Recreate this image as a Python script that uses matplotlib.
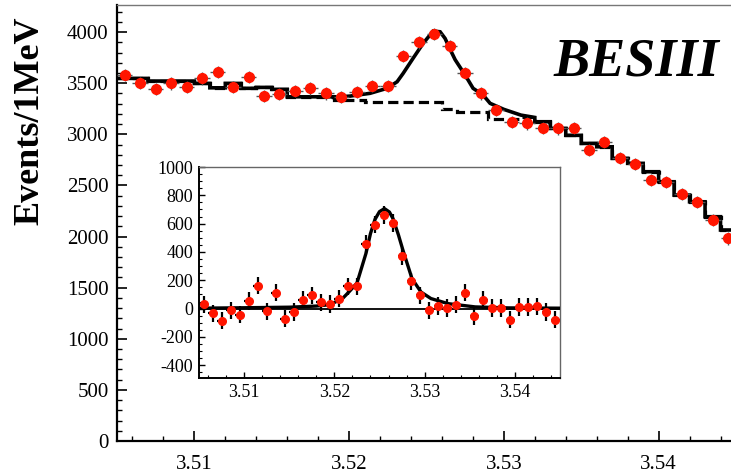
import numpy as np
import matplotlib
matplotlib.use("Agg")
import matplotlib.pyplot as plt
from matplotlib.ticker import MultipleLocator, FixedLocator, FixedFormatter

plt.rcParams["axes.unicode_minus"] = False

# ---------------- data ----------------
bin_edges = [3.505, 3.506, 3.507, 3.508, 3.509, 3.510, 3.511, 3.512, 3.513, 3.514,
             3.515, 3.516, 3.517, 3.518, 3.519, 3.520, 3.521, 3.522, 3.523, 3.524,
             3.525, 3.526, 3.527, 3.528, 3.529, 3.530, 3.531, 3.532, 3.533, 3.534,
             3.535, 3.536, 3.537, 3.538, 3.539, 3.540, 3.541, 3.542, 3.543, 3.544,
             3.545]
bin_centers = [3.5055, 3.5065, 3.5075, 3.5085, 3.5095, 3.5105, 3.5115, 3.5125, 3.5135, 3.5145,
               3.5155, 3.5165, 3.5175, 3.5185, 3.5195, 3.5205, 3.5215, 3.5225, 3.5235, 3.5245,
               3.5255, 3.5265, 3.5275, 3.5285, 3.5295, 3.5305, 3.5315, 3.5325, 3.5335, 3.5345,
               3.5355, 3.5365, 3.5375, 3.5385, 3.5395, 3.5405, 3.5415, 3.5425, 3.5435, 3.5445]

# main histogram: events per 1 MeV
events = [3579, 3504, 3440, 3498, 3465, 3547, 3612, 3465, 3560, 3377,
          3394, 3426, 3449, 3400, 3367, 3413, 3475, 3475, 3765, 3899,
          3980, 3863, 3602, 3400, 3237, 3123, 3107, 3064, 3058, 3064,
          2846, 2927, 2770, 2709, 2553, 2536, 2413, 2340, 2161, 1982]
events_err = 60

# background shape (dashed histogram)
background = [3547, 3547, 3521, 3521, 3521, 3498, 3455, 3498, 3450, 3459,
              3440, 3367, 3367, 3367, 3335, 3335, 3318, 3318, 3318, 3318,
              3318, 3250, 3221, 3221, 3146, 3146, 3165, 3123, 3058, 2990,
              2911, 2878, 2765, 2716, 2634, 2536, 2406, 2340, 2194, 2064]

# total fit around the peak (solid curve vertices)
peak_fit_x = [3.5190, 3.52006, 3.52135, 3.52245, 3.5231, 3.52349, 3.52413, 3.52478,
              3.52543, 3.52588, 3.5262, 3.52653, 3.52685, 3.5275, 3.52801, 3.52866,
              3.52911, 3.5300, 3.5311]
peak_fit_y = [3362, 3374, 3401, 3450, 3514, 3596, 3743, 3889,
              4010, 4003, 3938, 3830, 3730, 3579, 3450, 3384,
              3303, 3244, 3188]

# inset: background-subtracted events
signal = [30, -33, -85, -12, -42, 52, 162, -19, 113, -71,
          -24, 64, 94, 44, 33, 71, 157, 157, 456, 593,
          663, 604, 369, 193, 94, -12, 19, 5, 28, 113,
          -52, 59, 5, 5, -78, 12, 12, 16, -24, -78]
signal_err = 62

inset_fit_x = [3.505, 3.510, 3.515, 3.518, 3.5195, 3.5209, 3.5216, 3.5225, 3.5235,
               3.5240, 3.5245, 3.5250, 3.52555, 3.5261, 3.5265, 3.5271, 3.5276,
               3.5286, 3.5296, 3.5307, 3.5326, 3.5356, 3.5393, 3.545]
inset_fit_y = [3, 6, 10, 18, 28, 71, 117, 180, 390,
               530, 630, 685, 706, 682, 635, 520, 412,
               212, 117, 71, 35, 12, 5, 3]

main_ticks = [3.51, 3.52, 3.53, 3.54]
main_tick_labels = ["3.51", "3.52", "3.53", "3.54"]

# ---------------- figure ----------------
W, H = 731, 473
fig = plt.figure(figsize=(W / 100, H / 100), dpi=100)
serif = ["Liberation Serif", "DejaVu Serif"]


def fx(px):
    return px / W


def fy(py):
    return 1 - py / H


ax = fig.add_axes([fx(117), fy(441), fx(736) - fx(117), fy(5) - fy(441)])
ax.set_xlim(bin_edges[0], bin_edges[-1])
ax.set_ylim(0, 4265)

# dashed background
ax.stairs(background, bin_edges, baseline=None, color="black", lw=2.3,
          linestyle=(0, (3.2, 1.6)), zorder=2)

# solid total fit: background steps outside the peak, read curve inside
fx_list, fy_list = [], []
for i in range(14):
    fx_list += [bin_edges[i], bin_edges[i + 1]]
    fy_list += [background[i], background[i]]
fx_list += peak_fit_x
fy_list += peak_fit_y
fx_list += [bin_edges[27]]
fy_list += [background[26]]
for i in range(27, 40):
    fx_list += [bin_edges[i], bin_edges[i + 1]]
    fy_list += [background[i], background[i]]
ax.plot(fx_list, fy_list, color="black", lw=2.6, solid_joinstyle="miter", zorder=3)

ax.errorbar(bin_centers, events, yerr=events_err, xerr=0.0005, fmt="o",
            color="#ff1500", ms=7, mec="#ff1500", ecolor="#555555",
            elinewidth=1.0, capsize=0, zorder=4)

ax.xaxis.set_major_locator(FixedLocator(main_ticks))
ax.xaxis.set_major_formatter(FixedFormatter(main_tick_labels))
ax.xaxis.set_minor_locator(MultipleLocator(0.002))
ax.yaxis.set_major_locator(MultipleLocator(500))
ax.yaxis.set_minor_locator(MultipleLocator(100))
ax.tick_params(which="both", direction="in", top=False, right=False, color="black")
ax.tick_params(which="major", length=7, width=1.2)
ax.tick_params(which="minor", length=3.5, width=1.0)
ax.tick_params(axis="y", which="major", pad=6, labelsize=15)
ax.tick_params(axis="x", which="major", pad=10, labelsize=15)
for lab in ax.get_xticklabels() + ax.get_yticklabels():
    lab.set_family(serif)
for s in ["left", "bottom"]:
    ax.spines[s].set_linewidth(1.6)
    ax.spines[s].set_color("black")
ax.spines["top"].set_linewidth(1.0)
ax.spines["top"].set_color("#777777")
ax.spines["right"].set_visible(False)

fig.text(fx(30), fy(121), "Events/1MeV", rotation=90, ha="center", va="center",
         fontsize=26, fontweight="bold", family=serif)
fig.text(fx(636), fy(75), "BESIII", ha="center", va="baseline",
         fontsize=39, fontweight="bold", fontstyle="italic", family=serif)

# ---------------- inset ----------------
axi = fig.add_axes([fx(199), fy(378), fx(560) - fx(199), fy(167) - fy(378)])
axi.set_facecolor("white")
axi.set_xlim(bin_edges[0], bin_edges[-1])
axi.set_ylim(-490, 1000)
axi.axhline(0, color="black", lw=1.3, zorder=2)
axi.plot(inset_fit_x, inset_fit_y, color="black", lw=2.4, zorder=3)
axi.errorbar(bin_centers, signal, yerr=signal_err, xerr=0.0005, fmt="o",
             color="#ff1500", ms=5.5, mec="#ff1500", ecolor="black",
             elinewidth=1.6, capsize=0, zorder=4)
axi.xaxis.set_major_locator(FixedLocator(main_ticks))
axi.xaxis.set_major_formatter(FixedFormatter(main_tick_labels))
axi.xaxis.set_minor_locator(MultipleLocator(0.002))
axi.yaxis.set_major_locator(MultipleLocator(200))
axi.yaxis.set_minor_locator(MultipleLocator(50))
axi.tick_params(which="both", direction="in", top=False, right=False)
axi.tick_params(which="major", length=4.5, width=1.0, labelsize=13, pad=4)
axi.tick_params(which="minor", length=2.3, width=0.8)
for lab in axi.get_xticklabels() + axi.get_yticklabels():
    lab.set_family(serif)
for s in ["left", "bottom"]:
    axi.spines[s].set_linewidth(1.4)
    axi.spines[s].set_color("black")
for s in ["top", "right"]:
    axi.spines[s].set_linewidth(1.0)
    axi.spines[s].set_color("#666666")

fig.savefig("out.png", dpi=100)
